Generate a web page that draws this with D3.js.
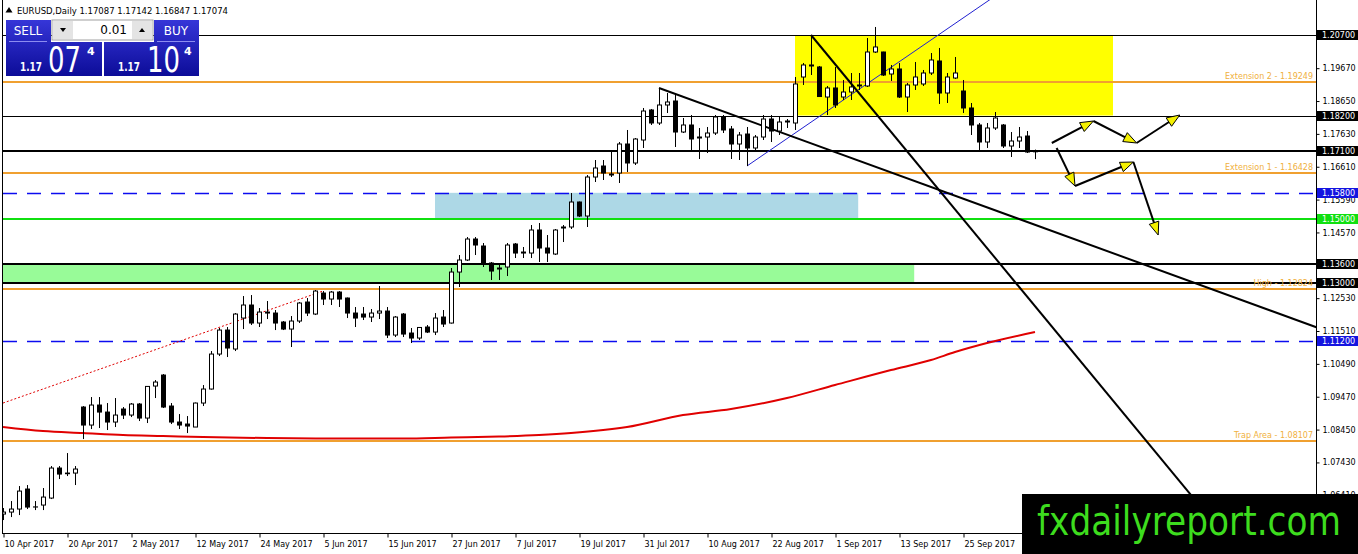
<!DOCTYPE html>
<html lang="en">
<head>
  <meta charset="UTF-8">
  <title>EURUSD Daily</title>
  <script src="https://d3js.org/d3.v7.min.js"></script>
  <style>
    body { margin: 0; background: #fff; }
    text { font-family: "DejaVu Sans", sans-serif; }
    .axis text { font-size: 8px; fill: #000; }
  </style>
</head>
<body>
  <svg></svg>
  <script>
    const width = 1358, height = 554;
    const plotRight = 1316, plotBottom = 533;

    // daily candles, 10 Apr 2017 .. 6 Oct 2017
    const opens = [1.05827,1.05889,1.05983,1.06604,1.06045,1.06107,1.06324,1.07256,1.07100,1.07100,
      1.09150,1.08591,1.09212,1.08994,1.08684,1.09088,1.08901,1.09243,1.08808,1.09802,
      1.10143,1.09181,1.08684,1.08622,1.08529,1.09274,1.09709,1.10795,1.11540,1.10951,
      1.11913,1.12317,1.11758,1.12099,1.12068,1.11789,1.11571,1.11820,1.12410,1.12037,
      1.12689,1.12503,1.12720,1.12534,1.12068,1.12037,1.11944,1.12068,1.12130,1.11385,
      1.12037,1.11447,1.11292,1.11634,1.11478,1.11944,1.11758,1.13341,1.13714,1.14366,
      1.14149,1.13621,1.13435,1.13497,1.14211,1.13962,1.13931,1.14646,1.14087,1.13900,
      1.14708,1.14739,1.15515,1.15080,1.16291,1.16633,1.16384,1.16415,1.17316,1.16726,
      1.17440,1.18372,1.17968,1.18527,1.18651,1.17688,1.17906,1.17533,1.17533,1.17657,
      1.18154,1.17782,1.17316,1.17626,1.17192,1.17533,1.18092,1.17719,1.17999,1.17968,
      1.19396,1.19769,1.19707,1.18775,1.19055,1.18775,1.18930,1.19117,1.19117,1.20172,
      1.20172,1.19489,1.19645,1.18775,1.19148,1.19179,1.19520,1.19893,1.18899,1.19365,
      1.18961,1.18434,1.17906,1.17378,1.17813,1.17906,1.17254,1.17409,1.17564,1.17087];
    const highs = [1.06014,1.06231,1.06697,1.06728,1.06231,1.06635,1.07318,1.07318,1.07721,1.07318,
      1.09180,1.09460,1.09460,1.09274,1.09429,1.09150,1.09274,1.09274,1.09802,1.09988,
      1.10174,1.09274,1.08932,1.08870,1.09290,1.09833,1.10888,1.11603,1.11634,1.12068,
      1.12596,1.12627,1.12224,1.12441,1.12162,1.11820,1.11975,1.12410,1.12534,1.12783,
      1.12751,1.12751,1.12751,1.12550,1.12255,1.12255,1.12193,1.12907,1.12255,1.11975,
      1.12068,1.11603,1.11634,1.11696,1.12068,1.12162,1.13466,1.13869,1.14428,1.14428,
      1.14242,1.13652,1.13621,1.14242,1.14242,1.14118,1.14801,1.14863,1.14490,1.14677,
      1.14801,1.15794,1.15530,1.16353,1.16819,1.16819,1.17098,1.17378,1.17751,1.17502,
      1.18434,1.18403,1.19055,1.18899,1.18899,1.18123,1.18216,1.17813,1.17844,1.18216,
      1.18216,1.17875,1.17688,1.17844,1.17595,1.18216,1.18216,1.18154,1.18092,1.19396,
      1.19831,1.20700,1.19738,1.19117,1.19707,1.19303,1.19520,1.19520,1.20607,1.20949,
      1.20180,1.19769,1.19831,1.19210,1.19862,1.19614,1.20141,1.20297,1.19520,1.20017,
      1.19303,1.18589,1.17968,1.17968,1.18309,1.17937,1.17688,1.17844,1.17719,1.17142];
    const lows = [1.05641,1.05734,1.05796,1.05983,1.05951,1.05951,1.06293,1.06914,1.07007,1.06728,
      1.08156,1.08467,1.08498,1.08436,1.08529,1.08777,1.08839,1.08715,1.08653,1.09429,
      1.09119,1.08622,1.08467,1.08342,1.08529,1.09181,1.09690,1.10733,1.10702,1.10888,
      1.11571,1.11696,1.11634,1.11882,1.11540,1.11540,1.11013,1.11758,1.11975,1.12006,
      1.12317,1.12317,1.12255,1.11913,1.11634,1.11851,1.11789,1.11882,1.11292,1.11323,
      1.11323,1.11137,1.11230,1.11447,1.11385,1.11634,1.11740,1.12876,1.13683,1.13869,
      1.13497,1.13093,1.13093,1.13217,1.13776,1.13776,1.13776,1.13652,1.13652,1.13869,
      1.14273,1.14677,1.15049,1.14739,1.16136,1.16198,1.16291,1.16105,1.16446,1.16664,
      1.17192,1.17906,1.17906,1.18278,1.17223,1.17657,1.17130,1.16850,1.17036,1.17595,
      1.17657,1.16850,1.16819,1.16633,1.17130,1.17440,1.17378,1.17595,1.17813,1.17751,
      1.19148,1.19458,1.18775,1.18216,1.18434,1.18682,1.18682,1.18993,1.19086,1.20141,
      1.19427,1.19272,1.18744,1.18309,1.18993,1.19117,1.19458,1.18558,1.18589,1.19334,
      1.18278,1.17595,1.17130,1.17192,1.17751,1.17192,1.16912,1.17192,1.17036,1.16847];
    const closes = [1.05889,1.05983,1.06541,1.06045,1.06050,1.06355,1.07256,1.07069,1.07080,1.07225,
      1.08591,1.09212,1.08994,1.08684,1.08901,1.08901,1.09243,1.08808,1.09790,1.09926,
      1.09150,1.08684,1.08591,1.08560,1.09274,1.09709,1.10795,1.11540,1.10982,1.12037,
      1.12317,1.11758,1.12099,1.12068,1.11758,1.11571,1.11820,1.12379,1.12068,1.12751,
      1.12503,1.12720,1.12503,1.12068,1.11913,1.11944,1.12068,1.12130,1.11385,1.11944,
      1.11416,1.11292,1.11620,1.11478,1.11913,1.11727,1.13341,1.13714,1.14366,1.14180,
      1.13621,1.13372,1.13466,1.14180,1.13931,1.13931,1.14646,1.14087,1.13931,1.14646,
      1.14739,1.15515,1.15080,1.16291,1.16571,1.16415,1.16353,1.17316,1.16726,1.17471,
      1.18340,1.17968,1.18527,1.18620,1.17688,1.17906,1.17471,1.17502,1.17657,1.18154,
      1.17751,1.17316,1.17595,1.17192,1.17533,1.18092,1.17719,1.17999,1.18030,1.19179,
      1.19769,1.19738,1.18790,1.19055,1.18527,1.18930,1.19086,1.19148,1.20172,1.20328,
      1.19458,1.19645,1.18775,1.19148,1.19396,1.19520,1.19924,1.18899,1.19396,1.19520,
      1.18434,1.17906,1.17378,1.17813,1.18123,1.17254,1.17409,1.17533,1.17067,1.17074];

    // moving average read at some bars: [bar, price]
    const maPoints = [[0,1.08529],[5,1.08404],[10,1.08342],[15,1.08280],[20,1.08249],[25,1.08218],
      [33,1.08187],[40,1.08172],[50,1.08172],[56,1.08203],[62,1.08234],[67,1.08280],[71,1.08342],
      [78,1.08529],[85,1.08901],[91,1.09088],[98,1.09429],[104,1.09833],[111,1.10299],[116,1.10609],
      [119,1.10857],[123,1.11137],[129,1.11478]];

    const dateLabels = ["10 Apr 2017","20 Apr 2017","2 May 2017","12 May 2017","24 May 2017","5 Jun 2017",
      "15 Jun 2017","27 Jun 2017","7 Jul 2017","19 Jul 2017","31 Jul 2017","10 Aug 2017","22 Aug 2017",
      "1 Sep 2017","13 Sep 2017","25 Sep 2017"];
    const dateBars = [0,8,16,24,32,40,48,56,64,72,80,88,96,104,112,120];

    const priceTicks = [1.2069,1.1967,1.1865,1.1763,1.1661,1.1559,1.1457,1.1355,1.1253,1.1151,
      1.1049,1.0947,1.0845,1.0743,1.0641];

    // horizontal levels drawn on the chart
    const levels = [
      { price: 1.20700, color: "#000", w: 1, tag: "#000" },
      { price: 1.19249, color: "#f0a030", w: 2, note: "Extension 2 - 1.19249" },
      { price: 1.18200, color: "#000", w: 1, tag: "#000" },
      { price: 1.17100, color: "#000", w: 2, tag: "#000" },
      { price: 1.16428, color: "#f0a030", w: 2, note: "Extension 1 - 1.16428" },
      { price: 1.15800, color: "#0c0cf0", w: 1.3, dash: "14,10", tag: "#1414e0" },
      { price: 1.15000, color: "#10e010", w: 2, tag: "#10e010" },
      { price: 1.13600, color: "#000", w: 2, tag: "#000" },
      { price: 1.13000, color: "#000", w: 2, tag: "#000" },
      { price: 1.12824, color: "#f0a030", w: 2, note: "High - 1.12824" },
      { price: 1.11200, color: "#0c0cf0", w: 1.3, dash: "14,10", tag: "#1414e0" },
      { price: 1.08107, color: "#f0a030", w: 2, note: "Trap Area - 1.08107" }
    ];

    // zones: [fromBar, toBar, topPrice, bottomPrice, colour]
    const zones = [
      [99, 138.75, 1.20700, 1.18200, "#ffff00"],
      [54, 106.9, 1.15800, 1.15000, "#add8e6"],
      [0, 113.9, 1.13600, 1.13000, "#98fb98"]
    ];

    // trendlines: [bar1, price1, bar2, price2, colour, width, dash, ray]
    const trends = [
      [0, 1.09274, 40, 1.12751, "#e00000", 1, "2,2", false],
      [93, 1.16633, 122.75, 1.21694, "#2020d0", 1, null, true],
      [82, 1.19055, 164.1, 1.11634, "#000", 2, null, true],
      [101, 1.20700, 148.4, 1.06448, "#000", 2, null, true]
    ];

    // forecast arrows: list of [bar, price] vertices
    const arrowPaths = [
      [[131.1, 1.17347], [136.3, 1.18030], [141.7, 1.17347], [147.1, 1.18216]],
      [[131.7, 1.17192], [134.0, 1.16012], [141.3, 1.16757], [144.4, 1.14490]]
    ];

    const x = d3.scaleLinear().domain([0, 129]).range([3, 1035]);
    const y = d3.scaleLinear().domain([1.112, 1.207]).range([341, 35]);

    const svg = d3.select("svg").attr("width", width).attr("height", height);

    const defs = svg.append("defs");
    defs.append("clipPath").attr("id", "plot")
      .append("rect").attr("x", 3).attr("y", 0).attr("width", plotRight - 3).attr("height", plotBottom);
    const grad = defs.append("linearGradient").attr("id", "blue").attr("x1", 0).attr("y1", 0).attr("x2", 0).attr("y2", 1);
    grad.append("stop").attr("offset", "0%").attr("stop-color", "#3636d8");
    grad.append("stop").attr("offset", "100%").attr("stop-color", "#0c0c98");

    const g = svg.append("g").attr("clip-path", "url(#plot)");

    g.selectAll("rect.zone").data(zones).join("rect")
      .attr("class", "zone")
      .attr("x", d => x(d[0]))
      .attr("width", d => x(d[1]) - x(d[0]))
      .attr("y", d => y(d[2]))
      .attr("height", d => y(d[3]) - y(d[2]))
      .attr("fill", d => d[4]);

    g.selectAll("line.level").data(levels).join("line")
      .attr("class", "level")
      .attr("x1", 3).attr("x2", plotRight)
      .attr("y1", d => Math.round(y(d.price)) + (d.w < 2 ? 0.5 : 0))
      .attr("y2", d => Math.round(y(d.price)) + (d.w < 2 ? 0.5 : 0))
      .attr("stroke", d => d.color)
      .attr("stroke-width", d => d.w)
      .attr("stroke-dasharray", d => d.dash || null);

    g.selectAll("text.note").data(levels.filter(d => d.note)).join("text")
      .attr("class", "note")
      .attr("x", plotRight - 3)
      .attr("y", d => y(d.price) - 3)
      .attr("text-anchor", "end")
      .attr("font-size", 8)
      .attr("fill", "#f0b040")
      .text(d => d.note);

    // moving average
    g.append("path")
      .datum(maPoints)
      .attr("fill", "none")
      .attr("stroke", "#e00000")
      .attr("stroke-width", 2)
      .attr("d", d3.line().x(d => x(d[0])).y(d => y(d[1])).curve(d3.curveMonotoneX));

    // trendlines (rays run on past the second point)
    g.selectAll("line.trend").data(trends).join("line")
      .attr("class", "trend")
      .each(function(d) {
        const x1 = x(d[0]), y1 = y(d[1]);
        let x2 = x(d[2]), y2 = y(d[3]);
        if (d[7]) {
          const k = 3;
          x2 = x1 + (x2 - x1) * k;
          y2 = y1 + (y2 - y1) * k;
        }
        d3.select(this).attr("x1", x1).attr("y1", y1).attr("x2", x2).attr("y2", y2);
      })
      .attr("stroke", d => d[4])
      .attr("stroke-width", d => d[5])
      .attr("stroke-dasharray", d => d[6]);

    // candles
    const bars = d3.range(opens.length);
    const candle = g.append("g").selectAll("g").data(bars).join("g");
    candle.append("line")
      .attr("x1", i => Math.round(x(i)) + 0.5)
      .attr("x2", i => Math.round(x(i)) + 0.5)
      .attr("y1", i => y(highs[i]))
      .attr("y2", i => y(lows[i]))
      .attr("stroke", "#000");
    candle.append("rect")
      .attr("x", i => Math.round(x(i)) - 1.5)
      .attr("width", 4)
      .attr("y", i => y(Math.max(opens[i], closes[i])))
      .attr("height", i => Math.max(0.01, Math.abs(y(opens[i]) - y(closes[i]))))
      .attr("fill", i => closes[i] >= opens[i] ? "#fff" : "#000")
      .attr("stroke", "#000");

    // arrows
    arrowPaths.forEach(path => {
      for (let k = 0; k < path.length - 1; k++) {
        const x0 = x(path[k][0]), y0 = y(path[k][1]);
        const x1 = x(path[k + 1][0]), y1 = y(path[k + 1][1]);
        const len = Math.hypot(x1 - x0, y1 - y0);
        const ux = (x1 - x0) / len, uy = (y1 - y0) / len;
        g.append("line")
          .attr("x1", x0).attr("y1", y0).attr("x2", x1 - ux * 6).attr("y2", y1 - uy * 6)
          .attr("stroke", "#000").attr("stroke-width", 2);
        const bx = x1 - ux * 13, by = y1 - uy * 13;
        g.append("polygon")
          .attr("points", [[x1, y1], [bx - uy * 5, by + ux * 5], [bx + uy * 5, by - ux * 5]].map(p => p.join(",")).join(" "))
          .attr("fill", "#f4f000")
          .attr("stroke", "#000")
          .attr("stroke-width", 1);
      }
    });

    // frame
    svg.append("line").attr("x1", 2.5).attr("x2", 2.5).attr("y1", 0).attr("y2", plotBottom).attr("stroke", "#000");
    svg.append("line").attr("x1", 2).attr("x2", plotRight + 1).attr("y1", plotBottom + 0.5).attr("y2", plotBottom + 0.5).attr("stroke", "#000");
    svg.append("line").attr("x1", plotRight + 0.5).attr("x2", plotRight + 0.5).attr("y1", 0).attr("y2", plotBottom).attr("stroke", "#000");

    // price axis
    const yAxis = svg.append("g")
      .attr("class", "axis")
      .attr("transform", `translate(${plotRight + 0.5},0)`)
      .call(d3.axisRight(y).tickValues(priceTicks).tickFormat(d3.format(".5f")).tickSize(3).tickPadding(3));
    yAxis.select(".domain").remove();

    const tags = svg.append("g").selectAll("g").data(levels.filter(d => d.tag)).join("g")
      .attr("transform", d => `translate(${plotRight + 1},${Math.round(y(d.price))})`);
    tags.append("rect")
      .attr("x", 0).attr("y", -5).attr("width", width - plotRight).attr("height", 10)
      .attr("fill", d => d.tag);
    tags.append("text")
      .attr("x", 5).attr("dy", "0.35em")
      .attr("font-size", 8).attr("fill", "#fff")
      .text(d => d3.format(".5f")(d.price));

    // time axis
    const xAxis = svg.append("g")
      .attr("class", "axis")
      .attr("transform", `translate(0,${plotBottom + 0.5})`)
      .call(d3.axisBottom(x).tickValues(dateBars).tickFormat((d, i) => dateLabels[i]).tickSize(4).tickPadding(4));
    xAxis.select(".domain").remove();
    xAxis.selectAll(".tick line").attr("transform", "translate(0.5,0)");
    xAxis.selectAll(".tick text").attr("text-anchor", "start").attr("x", 1);

    // header
    svg.append("path").attr("d", "M5.5,12.5 L9,7 L12.5,12.5 Z").attr("fill", "#000");
    svg.append("text").attr("x", 17).attr("y", 14).attr("font-size", 8.5)
      .attr("textLength", 211).attr("lengthAdjust", "spacing")
      .text("EURUSD,Daily  1.17087 1.17142 1.16847 1.17074");

    // one-click trading panel
    const panel = svg.append("g");
    panel.append("path")
      .attr("d", "M6,20 H51 V42 H102 V76 H6 Z")
      .attr("fill", "url(#blue)");
    panel.append("path")
      .attr("d", "M154,20 H199 V76 H104 V42 H154 Z")
      .attr("fill", "url(#blue)");
    panel.append("rect").attr("x", 52).attr("y", 20).attr("width", 101).attr("height", 20)
      .attr("fill", "#fff").attr("stroke", "#a0a0a0");
    panel.append("rect").attr("x", 53).attr("y", 21).attr("width", 20).attr("height", 18).attr("fill", "#e4e4e4");
    panel.append("rect").attr("x", 132).attr("y", 21).attr("width", 20).attr("height", 18).attr("fill", "#e4e4e4");
    panel.append("path").attr("d", "M60,28 L66,28 L63,32 Z").attr("fill", "#000");
    panel.append("path").attr("d", "M139,32 L145,32 L142,28 Z").attr("fill", "#000");
    panel.append("text").attr("x", 127).attr("y", 34).attr("text-anchor", "end")
      .attr("font-family", "Liberation Sans, Arial, sans-serif").attr("font-size", 12).text("0.01");
    [[28, "SELL"], [176, "BUY"]].forEach(([cx, label]) => {
      panel.append("text").attr("x", cx).attr("y", 35).attr("text-anchor", "middle")
        .attr("font-family", "Liberation Sans, Arial, sans-serif").attr("font-size", 12)
        .attr("fill", "#fff").text(label);
      panel.append("line").attr("x1", cx - 19).attr("x2", cx + 19).attr("y1", 41.5).attr("y2", 41.5)
        .attr("stroke", "#8c8cf0");
    });
    [[20, 48, 87, "07"], [118, 147, 184, "10"]].forEach(([x0, x1, x2, big]) => {
      panel.append("text").attr("x", x0).attr("y", 71)
        .attr("font-family", "Liberation Sans, Arial, sans-serif").attr("font-size", 12).attr("font-weight", "bold")
        .attr("textLength", 22).attr("lengthAdjust", "spacingAndGlyphs")
        .attr("fill", "#fff").text("1.17");
      panel.append("text").attr("x", x1).attr("y", 72)
        .attr("font-family", "Liberation Sans, Arial, sans-serif").attr("font-size", 36)
        .attr("textLength", 33).attr("lengthAdjust", "spacingAndGlyphs")
        .attr("fill", "#fff").text(big);
      panel.append("text").attr("x", x2).attr("y", 55)
        .attr("font-family", "Liberation Sans, Arial, sans-serif").attr("font-size", 11).attr("font-weight", "bold")
        .attr("fill", "#fff").text("4");
    });

    // watermark
    svg.append("rect").attr("x", 1022).attr("y", 494).attr("width", width - 1022).attr("height", height - 494).attr("fill", "#000");
    svg.append("text").attr("x", 1037).attr("y", 535)
      .attr("font-family", "Liberation Sans, Arial, sans-serif").attr("font-size", 40)
      .attr("textLength", 304).attr("lengthAdjust", "spacingAndGlyphs")
      .attr("fill", "#3ddc1e")
      .text("fxdailyreport.com");
  </script>
</body>
</html>
